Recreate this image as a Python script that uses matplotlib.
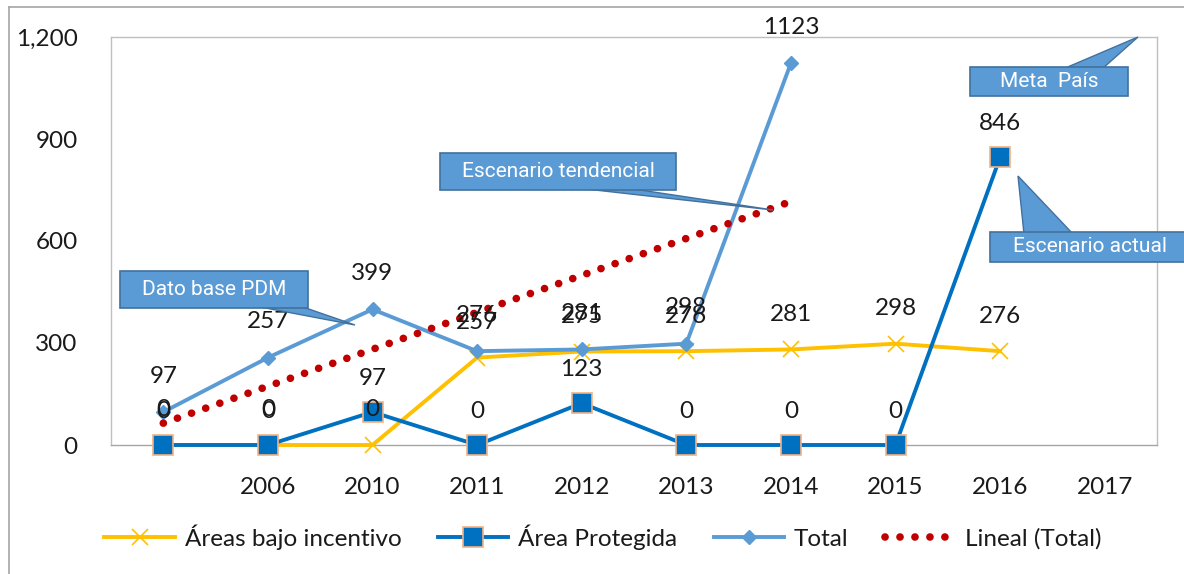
import matplotlib
matplotlib.use("Agg")
import matplotlib.pyplot as plt
import numpy as np
from matplotlib.patches import Rectangle, Polygon
from matplotlib.lines import Line2D

categories = ["", "2006", "2010", "2011", "2012", "2013", "2014", "2015", "2016", "2017"]
areas_incentivo = [0, 0, 0, 257, 275, 276, 281, 298, 276]
area_protegida = [0, 0, 97, 0, 123, 0, 0, 0, 846]
total = [97, 257, 399, 276, 281, 298, 1123]
yticks = [0, 300, 600, 900, 1200]
ytick_labels = ["0", "300", "600", "900", "1,200"]

W, H = 1184, 574
fig = plt.figure(figsize=(W / 100, H / 100), dpi=100)
FONT = "Lato"
plt.rcParams["font.family"] = [FONT, "DejaVu Sans"]
FS = 17.5

def fx(x):
    return x / W

def fy(y):
    return 1 - y / H

ax = fig.add_axes([fx(111), fy(445), (1157 - 111) / W, (445 - 37) / H])
ax.set_xlim(-0.5, len(categories) - 0.5)
ax.set_ylim(0, 1200)

c_yel = "#FFC000"
c_ap = "#0070C0"
c_tot = "#5B9BD5"
c_trend = "#C00000"
trend_ls = (0, (0.01, 1.95))

x_inc = np.arange(len(areas_incentivo))
x_ap = np.arange(len(area_protegida))
x_tot = np.arange(len(total))

ax.plot(x_inc, areas_incentivo, color=c_yel, lw=2.8, marker="x", ms=11, mew=1.2, zorder=3, clip_on=False)
ax.plot(x_ap, area_protegida, color=c_ap, lw=2.8, marker="s", ms=14, mfc=c_ap, mec="#F4B183", mew=1.2, zorder=4, clip_on=False)
ax.plot(x_tot, total, color=c_tot, lw=2.8, marker="D", ms=7, mfc=c_tot, mec=c_tot, zorder=5, clip_on=False)
coef = np.polyfit(x_tot, total, 1)
ax.plot(x_tot, np.polyval(coef, x_tot), color=c_trend, lw=5.5, ls=trend_ls, dash_capstyle="round", zorder=6)

lab_kw = dict(textcoords="offset pixels", ha="center", va="center", fontsize=FS, color="#1a1a1a", zorder=8, annotation_clip=False)
for xi, v in zip(x_inc, areas_incentivo):
    ax.annotate(f"{v}", (xi, v), xytext=(0, 35), **lab_kw)
for xi, v in zip(x_ap, area_protegida):
    ax.annotate(f"{v}", (xi, v), xytext=(0, 34), **lab_kw)
for xi, v in zip(x_tot, total):
    ax.annotate(f"{v}", (xi, v), xytext=(0, 36), **lab_kw)

ax.set_xticks(range(len(categories)))
ax.set_xticklabels(categories, fontsize=FS, color="#1a1a1a")
ax.set_yticks(yticks)
ax.set_yticklabels(ytick_labels, fontsize=FS, color="#1a1a1a")
ax.tick_params(axis="x", length=0, pad=23)
ax.tick_params(axis="y", length=0, pad=24)
for s in ["left", "top", "right"]:
    ax.spines[s].set_color("#BFBFBF")
    ax.spines[s].set_linewidth(1)
ax.spines["bottom"].set_color("#A6A6A6")
ax.spines["bottom"].set_linewidth(1)

# outer chart frame
fig.add_artist(Line2D([fx(9), fx(9)], [fy(7), 0], color="#A6A6A6", lw=1.2, transform=fig.transFigure))
fig.add_artist(Line2D([fx(9), 1], [fy(7), fy(7)], color="#A6A6A6", lw=1.2, transform=fig.transFigure))

def callout(x0, y0, x1, y1, text, base, tip):
    fc = "#5B9BD5"
    ec = "#41719C"
    poly = Polygon([(fx(base[0][0]), fy(base[0][1])), (fx(tip[0]), fy(tip[1])), (fx(base[1][0]), fy(base[1][1]))],
                   closed=True, transform=fig.transFigure, fc=fc, ec=ec, lw=1, zorder=20)
    fig.add_artist(poly)
    rect = Rectangle((fx(x0), fy(y1)), fx(x1) - fx(x0), fy(y0) - fy(y1), transform=fig.transFigure,
                     fc=fc, ec=ec, lw=1.2, zorder=21)
    fig.add_artist(rect)
    fig.text(fx((x0 + x1) / 2), fy((y0 + y1) / 2), text, ha="center", va="center", color="white",
             fontsize=15, family=["Roboto", "DejaVu Sans"], zorder=22)

callout(120, 271, 308, 308, "Dato base PDM", [(255, 306), (300, 306)], (355, 325))
callout(440, 153, 676, 190, "Escenario tendencial", [(577, 188), (627, 188)], (773, 210))
callout(970, 67, 1128, 96, "Meta  País", [(1063, 69), (1102, 69)], (1138, 37))
callout(990, 232, 1190, 262, "Escenario actual", [(1024, 234), (1073, 234)], (1018, 176))

handles = [
    Line2D([], [], color=c_yel, lw=2.8, marker="x", ms=11, mew=1.2),
    Line2D([], [], color=c_ap, lw=2.8, marker="s", ms=14, mfc=c_ap, mec="#F4B183", mew=1.2),
    Line2D([], [], color=c_tot, lw=2.8, marker="D", ms=7),
    Line2D([], [], color=c_trend, lw=5.5, ls=trend_ls, dash_capstyle="round"),
]
labels = ["Áreas bajo incentivo", "Área Protegida", "Total", "Lineal (Total)"]
fig.legend(handles, labels, loc="center", bbox_to_anchor=(fx(603), fy(537)), ncol=4, frameon=False,
           fontsize=FS, handlelength=2.9, columnspacing=1.5, handletextpad=0.4, labelcolor="#1a1a1a")

fig.savefig("out.png", dpi=100)
